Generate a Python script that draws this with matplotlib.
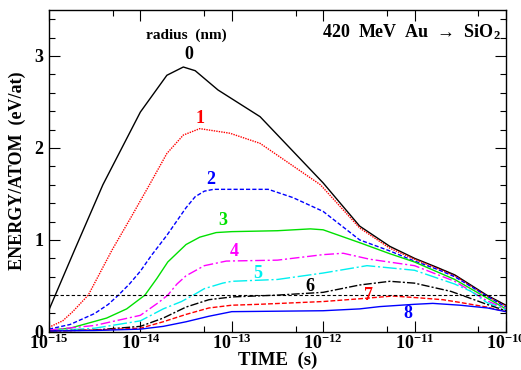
import numpy as np
import matplotlib
matplotlib.use('Agg')
import matplotlib.pyplot as plt
from matplotlib.ticker import FixedLocator, NullFormatter, MultipleLocator

plt.rcParams['font.family'] = ['Liberation Serif', 'DejaVu Serif']
plt.rcParams['font.weight'] = 'bold'
plt.rcParams['mathtext.fontset'] = 'custom'
plt.rcParams['mathtext.rm'] = 'Liberation Serif:bold'
plt.rcParams['mathtext.it'] = 'Liberation Serif:bold'
plt.rcParams['mathtext.bf'] = 'Liberation Serif:bold'

# log10(time / s) and energy (eV/atom) for each radius
t0 = [-15, -14.72, -14.41, -14.0, -13.71, -13.53, -13.4, -13.15, -12.69, -12.0, -11.6, -11.27, -11.0, -10.75, -10.56, -10.21, -10.0]
e0 = [0.24, 0.89, 1.6, 2.39, 2.79, 2.88, 2.84, 2.63, 2.34, 1.62, 1.15, 0.93, 0.80, 0.70, 0.62, 0.40, 0.29]

t1 = [-15, -14.85, -14.74, -14.57, -14.31, -14.1, -13.9, -13.71, -13.53, -13.35, -13.02, -12.69, -12.03, -11.6, -11.27, -11.0, -10.75, -10.56, -10.21, -10.0]
e1 = [0.05, 0.12, 0.22, 0.40, 0.89, 1.25, 1.6, 1.94, 2.14, 2.21, 2.16, 2.05, 1.60, 1.13, 0.91, 0.79, 0.69, 0.61, 0.39, 0.28]

t2 = [-15, -14.77, -14.5, -14.35, -14.24, -14.12, -14.0, -13.88, -13.71, -13.5, -13.4, -13.3, -13.2, -12.6, -12.33, -12.0, -11.6, -11.27, -11.0, -10.75, -10.56, -10.21, -10.0]
e2 = [0.03, 0.08, 0.2, 0.30, 0.40, 0.52, 0.66, 0.83, 1.05, 1.35, 1.47, 1.53, 1.55, 1.55, 1.46, 1.31, 1.0, 0.88, 0.77, 0.68, 0.60, 0.39, 0.27]

t3 = [-15, -14.77, -14.37, -14.15, -13.95, -13.82, -13.7, -13.5, -13.35, -13.17, -13.0, -12.5, -12.14, -12.0, -11.6, -11.27, -11.0, -10.56, -10.21, -10.0]
e3 = [0.02, 0.04, 0.15, 0.25, 0.40, 0.58, 0.76, 0.95, 1.03, 1.08, 1.09, 1.10, 1.12, 1.11, 0.97, 0.85, 0.76, 0.57, 0.37, 0.25]

t4 = [-15, -14.5, -14.0, -13.8, -13.7, -13.6, -13.5, -13.3, -13.06, -12.5, -12.0, -11.78, -11.49, -11.0, -10.56, -10.21, -10.0]
e4 = [0.02, 0.07, 0.18, 0.32, 0.40, 0.52, 0.61, 0.72, 0.77, 0.78, 0.84, 0.855, 0.79, 0.72, 0.55, 0.34, 0.25]

t5 = [-15, -14.5, -14.0, -13.75, -13.55, -13.42, -13.3, -13.1, -13.0, -12.5, -12.0, -11.52, -11.0, -10.56, -10.38, -10.21, -10.0]
e5 = [0.01, 0.04, 0.12, 0.25, 0.33, 0.40, 0.47, 0.53, 0.55, 0.57, 0.64, 0.72, 0.67, 0.52, 0.44, 0.32, 0.24]

t6 = [-15, -14.5, -14.0, -13.75, -13.5, -13.25, -13.0, -12.5, -12.0, -11.6, -11.27, -11.0, -10.6, -10.43, -10.21, -10.0]
e6 = [0.01, 0.02, 0.06, 0.15, 0.27, 0.35, 0.38, 0.40, 0.43, 0.51, 0.55, 0.53, 0.44, 0.38, 0.30, 0.23]

t7 = [-15, -14.5, -14.0, -13.75, -13.5, -13.25, -13.0, -12.7, -12.0, -11.6, -11.24, -10.95, -10.69, -10.5, -10.21, -10.0]
e7 = [0.01, 0.02, 0.04, 0.11, 0.19, 0.26, 0.29, 0.30, 0.33, 0.36, 0.39, 0.37, 0.35, 0.32, 0.27, 0.22]

t8 = [-15, -14.5, -14.0, -13.75, -13.5, -13.25, -13.0, -12.0, -11.6, -11.38, -11.0, -10.8, -10.5, -10.2, -10.0]
e8 = [0.01, 0.015, 0.03, 0.06, 0.11, 0.17, 0.22, 0.23, 0.25, 0.275, 0.30, 0.31, 0.29, 0.26, 0.22]

melt_level = 0.4
radius_labels = ['0', '1', '2', '3', '4', '5', '6', '7', '8']
label_pos = [(-13.47, 3.02), (-13.35, 2.32), (-13.23, 1.66), (-13.1, 1.21),
             (-12.97, 0.87), (-12.72, 0.64), (-12.15, 0.49), (-11.5, 0.40), (-11.07, 0.20)]

def main():
    fig = plt.figure(figsize=(5.21, 3.70), dpi=100)
    ax = fig.add_axes([0.094, 0.103, 0.877, 0.870])

    curves = [(t0, e0), (t1, e1), (t2, e2), (t3, e3), (t4, e4),
              (t5, e5), (t6, e6), (t7, e7), (t8, e8)]
    colors = ['black', '#ff0000', '#0000ff', '#00e000', '#ff00ff',
              '#00f0f0', 'black', '#ff0000', '#0000ff']
    styles = ['-', (0, (1, 0.8)), (0, (3, 1.5)), '-', (0, (7, 2, 1.5, 2)),
              (0, (10, 2, 1.5, 2)), (0, (6, 1.5, 1.5, 1.5)), (0, (3.5, 1.5)), '-']

    for (t, e), c, ls in zip(curves, colors, styles):
        ax.plot(10.0 ** np.array(t), e, color=c, linestyle=ls, lw=1.0)

    ax.axhline(melt_level, color='black', linestyle=(0, (3, 2)), lw=0.8)

    for lab, (lx, ly), c in zip(radius_labels, label_pos, colors):
        ax.text(10.0 ** lx, ly, lab, color=c, fontsize=13, ha='center', va='center',
                fontweight='bold')

    ax.text(10.0 ** -13.5, 3.23, 'radius  (nm)', fontsize=11, ha='center', va='center',
            fontweight='bold')
    ax.text(0.99, 0.93, '420  MeV  Au  \u2192  SiO$_2$', transform=ax.transAxes,
            fontsize=13, ha='right', va='center', fontweight='bold')

    ax.set_xscale('log')
    ax.set_xlim(1e-15, 1e-10)
    ax.set_ylim(0, 3.5)

    majors = [10.0 ** k for k in range(-15, -9)]
    ax.xaxis.set_major_locator(FixedLocator(majors))
    ax.xaxis.set_minor_locator(FixedLocator([5 * 10.0 ** k for k in range(-15, -10)]))
    ax.xaxis.set_minor_formatter(NullFormatter())
    ax.set_xticklabels(['$10^{%d}$' % k for k in range(-15, -9)])

    ax.yaxis.set_major_locator(MultipleLocator(1))
    ax.yaxis.set_minor_locator(MultipleLocator(0.2))

    ax.tick_params(which='both', direction='in', top=True, right=True,
                   labelsize=13, width=0.8)
    ax.tick_params(which='major', length=8)
    ax.tick_params(which='minor', length=4.5)
    ax.tick_params(axis='x', pad=1)
    ax.tick_params(axis='y', pad=4)
    for lab in ax.get_xticklabels() + ax.get_yticklabels():
        lab.set_fontweight('bold')
    for s in ax.spines.values():
        s.set_linewidth(1.0)

    ax.set_xlabel('TIME  (s)', fontsize=13.5, fontweight='bold', labelpad=-1)
    ax.set_ylabel('ENERGY/ATOM  (eV/at)', fontsize=13, fontweight='bold', labelpad=6)

    fig.savefig('out.png', dpi=100)

if __name__ == '__main__':
    main()
